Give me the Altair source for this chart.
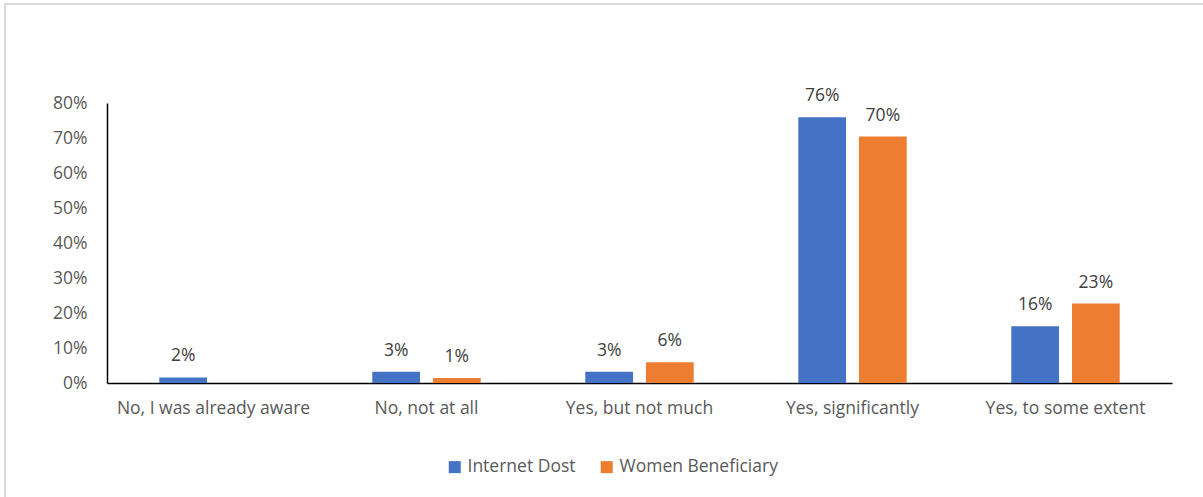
import altair as alt
import pandas as pd

categories = ["No, I was already aware", "No, not at all", "Yes, but not much",
              "Yes, significantly", "Yes, to some extent"]
series = ["Internet Dost", "Women Beneficiary"]
internet_dost = [0.016, 0.032, 0.032, 0.759, 0.162]
women_beneficiary = [None, 0.014, 0.059, 0.704, 0.227]
colors = ["#4472C4", "#ED7D31"]

rows = []
for i, c in enumerate(categories):
    rows.append({"category": c, "series": series[0], "value": internet_dost[i]})
    rows.append({"category": c, "series": series[1], "value": women_beneficiary[i]})
df = pd.DataFrame(rows)

FONT = "Open Sans"
GREY = "#595959"
FS = 17.5

base = alt.Chart(df).transform_filter("datum.value != null")

x = alt.X("category:N", sort=categories, title=None,
          scale=alt.Scale(paddingInner=0.491, paddingOuter=0.2455),
          axis=alt.Axis(labelAngle=0, ticks=False, labelPadding=16, labelLimit=0,
                        domainColor="#000000", domainWidth=1.5, labelColor=GREY,
                        labelFontSize=FS, labelFont=FONT))
xoff = alt.XOffset("series:N", sort=series,
                   scale=alt.Scale(paddingInner=0.214, paddingOuter=0))
y = alt.Y("value:Q", title=None,
          scale=alt.Scale(domain=[0, 0.8], nice=False),
          axis=alt.Axis(format=".0%", values=[0, 0.1, 0.2, 0.3, 0.4, 0.5, 0.6, 0.7, 0.8],
                        ticks=False, grid=False, labelPadding=20, domainColor="#000000",
                        domainWidth=1.5, labelColor=GREY, labelFontSize=FS, labelFont=FONT))
color = alt.Color("series:N", sort=series,
                  scale=alt.Scale(domain=series, range=colors),
                  legend=alt.Legend(title=None, orient="none", direction="horizontal",
                                    legendX=339, legendY=355, symbolType="square",
                                    symbolSize=144, symbolStrokeWidth=0, labelFontSize=FS,
                                    labelFont=FONT, labelColor=GREY, columnPadding=22,
                                    labelOffset=4, labelLimit=0))

bars = base.mark_bar().encode(x=x, xOffset=xoff, y=y, color=color)
labels = base.mark_text(baseline="alphabetic", dy=-16, fontSize=FS, font=FONT,
                        color="#404040").encode(
    x=x, xOffset=xoff, y=y, text=alt.Text("value:Q", format=".0%"))

frame_top = alt.Chart(df).mark_rule(color="#D9D9D9", strokeWidth=2).encode(
    x=alt.value(-103), x2=alt.value(1100), y=alt.value(-99))
frame_left = alt.Chart(df).mark_rule(color="#D9D9D9", strokeWidth=2).encode(
    x=alt.value(-102), y=alt.value(-100), y2=alt.value(400))

chart = alt.layer(frame_top, frame_left, bars, labels).properties(
    width=1065, height=280,
    autosize=alt.AutoSizeParams(type="none"),
    padding={"left": 107, "top": 103, "right": 31, "bottom": 114},
    background="white",
).configure_view(stroke=None)

chart.save("out.html", embed_options={"renderer": "svg", "actions": False})
